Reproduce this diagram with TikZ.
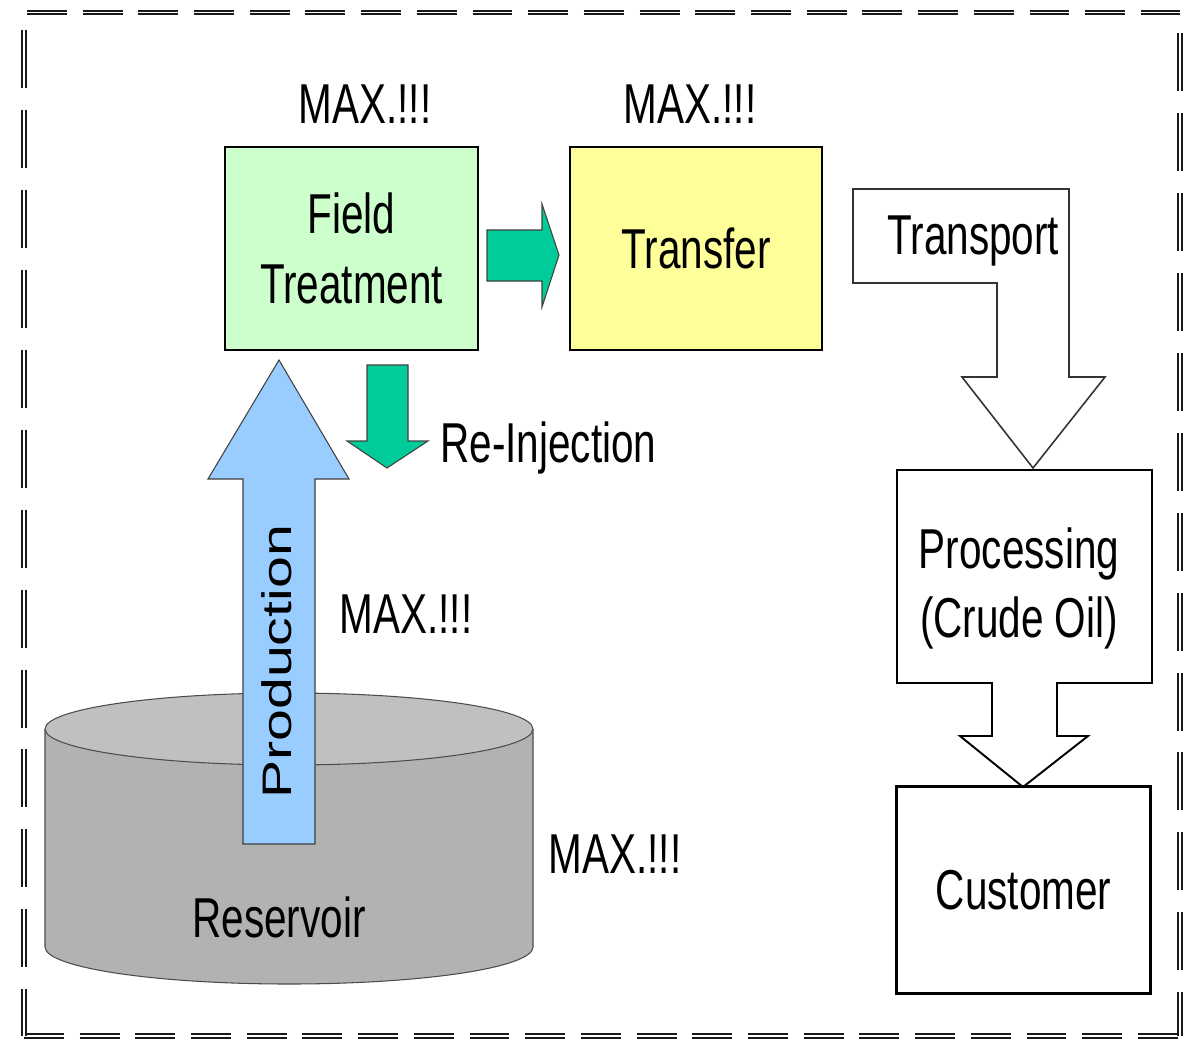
\documentclass[tikz,border=0pt]{standalone}
\usepackage{fontspec}
\setmainfont{Liberation Sans}
\newfontfamily\cond[FakeStretch=0.72]{Liberation Sans}
\definecolor{ftgreen}{RGB}{204,255,204}
\definecolor{tfyellow}{RGB}{255,255,153}
\definecolor{flowgreen}{RGB}{0,204,153}
\definecolor{prodblue}{RGB}{153,204,255}
\definecolor{rescap}{RGB}{192,192,192}
\definecolor{resbody}{RGB}{178,178,178}
\tikzset{
  lbl/.style={font=\cond\fontsize{32}{39.7}\selectfont, inner sep=0pt, align=center},
  box/.style={draw=black, line width=1.1pt, inner sep=0pt, lbl},
  blockarrow/.style={draw=black!75, line width=0.6pt, line join=miter},
  hollowarrow/.style={draw=black!80, fill=white, line width=0.9pt, line join=miter},
  frame/.style={draw=black!90, line width=1.1pt, double=white, double distance=0.9pt},
  hdash/.style={dash pattern=on 22.7pt off 9pt},
  vdash/.style={dash pattern=on 33pt off 12.5pt},
}
\begin{document}
\begin{tikzpicture}[x=0.02cm, y=-0.02cm]
\useasboundingbox (0,0) rectangle (1196,1041);

% dashed double frame
\draw[frame, hdash] (27,12.5) -- (1180,12.5);
\draw[frame, hdash] (24,1036) -- (1180,1036);
\draw[frame, vdash] (24,30) -- (24,1036);
\draw[frame, vdash] (1180,33) -- (1180,1036);

% process boxes
\node[box, fill=ftgreen, minimum width=5.06cm, minimum height=4.06cm] (ft) at (351.5,248.5) {Field\\Treatment};
\node[box, fill=tfyellow, minimum width=5.04cm, minimum height=4.06cm] (tf) at (696,248.5) {Transfer};
\node[box, minimum width=5.06cm, minimum height=4.12cm] (cust) at (1023.5,890) {Customer};

% reservoir cylinder
\fill[resbody] (45,729) -- (45,947)
  .. controls (45,967.4) and (154.2,984) .. (289,984)
  .. controls (423.8,984) and (533,967.4) .. (533,947) -- (533,729) -- cycle;
\draw[black!70, line width=0.6pt] (45,729) -- (45,947)
  .. controls (45,967.4) and (154.2,984) .. (289,984)
  .. controls (423.8,984) and (533,967.4) .. (533,947) -- (533,729);
\draw[black!70, fill=rescap, line width=0.6pt] (289,729) ellipse [x radius=4.88cm, y radius=0.72cm];
\node[lbl, anchor=base] (res) at (279,937) {Reservoir};

% production arrow
\draw[blockarrow, fill=prodblue] (243,844) -- (243,479) -- (208,479) -- (279,360)
  -- (349,479) -- (315,479) -- (315,844) -- cycle;
\node[font=\fontsize{32.6}{38}\selectfont, inner sep=0pt, rotate=90, yscale=0.72] (prod) at (277,662) {Production};

% treatment to transfer, and re-injection
\draw[blockarrow, fill=flowgreen] (487,230) -- (542,230) -- (542,204) -- (559,255)
  -- (542,307) -- (542,281) -- (487,281) -- cycle;
\draw[blockarrow, fill=flowgreen] (367,365) -- (408,365) -- (408,441) -- (428,441)
  -- (387,468) -- (347,441) -- (367,441) -- cycle;
\node[lbl, anchor=base west] (reinj) at (440,462) {Re-Injection};

% transport: bent hollow arrow into processing
\draw[hollowarrow] (853,189) -- (1069,189) -- (1069,377) -- (1105,377) -- (1033,468)
  -- (962,377) -- (997,377) -- (997,283) -- (853,283) -- cycle;
\node[lbl, anchor=base west] (transport) at (887,254) {Transport};

% processing box merged with its outgoing arrow
\draw[black, fill=white, line width=1.1pt, line join=miter] (897,470) -- (1152,470) -- (1152,683)
  -- (1057,683) -- (1057,736) -- (1088,736) -- (1023,787) -- (960,736) -- (992,736)
  -- (992,683) -- (897,683) -- cycle;
\node[lbl, anchor=north] (proc) at (1019,527) {Processing\\(Crude Oil)};
\draw[box] (cust.north west) rectangle (cust.south east);

% maximise targets
\node[lbl, anchor=base] (max1) at (365,123) {MAX.!!!};
\node[lbl, anchor=base] (max2) at (690,123) {MAX.!!!};
\node[lbl, anchor=base] (max3) at (406,633) {MAX.!!!};
\node[lbl, anchor=base] (max4) at (615,873) {MAX.!!!};
\end{tikzpicture}
\end{document}
